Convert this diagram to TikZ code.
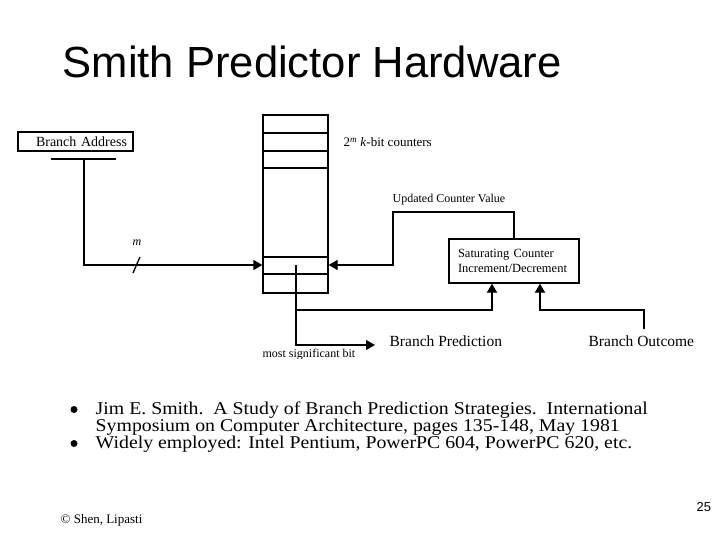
\documentclass[tikz,border=0pt]{standalone}
\usepackage{fontspec}
\setmainfont{Liberation Serif}
\newfontfamily\arialfont{Liberation Sans}
\usetikzlibrary{arrows.meta}

\begin{document}
\begin{tikzpicture}[x=1pt, y=-1pt, line width=1.3pt,
    >={Triangle[length=9pt,width=10pt]},
    box/.style={draw, rectangle, line width=1.3pt},
    lbl/.style={anchor=base west, inner sep=0pt, font=\fontsize{12}{14}\selectfont},
    bigLbl/.style={anchor=base west, inner sep=0pt, font=\fontsize{15.5}{18}\selectfont},
    bulletText/.style={anchor=base west, inner sep=0pt, xscale=1.1, transform shape, font=\fontsize{18}{17}\selectfont}]

    % Define the slide frame
    \useasboundingbox[fill=white] (0,0) rectangle (720,540);

    % Title
    \node[anchor=base west, inner sep=0pt, font=\arialfont\fontsize{43.6}{48}\selectfont] (title) at (62,78) {Smith Predictor Hardware};

    \begin{scope}
    % Diagram is cut at the bottom and right
    \clip (0,100) rectangle (697,358);

    % Branch address and its bus
    \node[box, text width=103pt, align=right, inner xsep=6pt, inner ysep=0pt, minimum height=19pt, font=\fontsize{14}{16}\selectfont] (addr) at (75.5,141.5) {Branch Address};
    \coordinate (busL) at (51,159);
    \coordinate (busR) at (116,159);
    \coordinate (busM) at (84,159);
    \draw (busL) -- (busR);

    % Draw the table of counters
    \node[box, minimum width=65pt, minimum height=178pt, inner sep=0pt] (table) at (295.5,204) {};
    \foreach \y in {133,151,168,257,274}
        \draw (table.west |- 0,\y) -- (table.east |- 0,\y);
    \coordinate (row) at (295.5,265);
    \node[lbl, font=\fontsize{13}{15}\selectfont] (cntLbl) at (343,147) {2\textsuperscript{\textit{m}} \textit{k}-bit counters};

    % Index into the table
    \draw[->] (busM) |- (table.west |- row);
    \draw (133,273) -- (140,257);
    \node[inner sep=0pt, font=\fontsize{12}{14}\selectfont] (mLbl) at (137,243) {\textit{m}};

    % Saturating counter
    \node[box, minimum width=130pt, minimum height=44pt, text width=112pt, align=left, inner xsep=9pt, font=\fontsize{12.5}{15}\selectfont] (sat) at (514,261) {Saturating Counter\\Increment/Decrement};

    % Updated counter value goes back
    \coordinate (upd) at (393,212);
    \draw[->] (sat.north) |- (upd) |- (table.east |- row);
    \node[lbl] (updLbl) at (392,203) {Updated Counter Value};

    % Most significant bit gives the prediction
    \coordinate (msb) at (296,265);
    \coordinate (split) at (296,310);
    \coordinate (predIn) at (375,345);
    \draw[->] (msb) |- (predIn);
    \draw[->] (split) -| ([xshift=-22pt]sat.south);
    \node[lbl] (msbLbl) at (262,357) {most significant bit};
    \node[bigLbl] (pred) at (389,346) {Branch Prediction};

    % Branch outcome
    \node[bigLbl] (outc) at (588,346) {Branch Outcome};
    \coordinate (outTop) at (644,329);
    \coordinate (outBend) at (644,310);
    \draw[->] (outTop) -- (outBend) -| ([xshift=26pt]sat.south);
    \end{scope}

    % Bullets
    \foreach \y in {414,448}
        \fill (74,\y-4.5) circle (3.5pt);
    \node[bulletText] (ref1) at (95,414) {Jim E. Smith.\ \ A Study of Branch Prediction Strategies.\ \ International};
    \node[bulletText] (ref2) at (95,431) {Symposium on Computer Architecture, pages 135-148, May 1981};
    \node[bulletText] (used) at (95,448) {Widely employed: Intel Pentium, PowerPC 604, PowerPC 620, etc.};

    % Footer
    \node[anchor=base west, inner sep=0pt, font=\fontsize{13}{15}\selectfont] (copy) at (60,523) {© Shen, Lipasti};
    \node[anchor=base west, inner sep=0pt, font=\arialfont\fontsize{13}{15}\selectfont] (page) at (696,511) {25};

\end{tikzpicture}
\end{document}
